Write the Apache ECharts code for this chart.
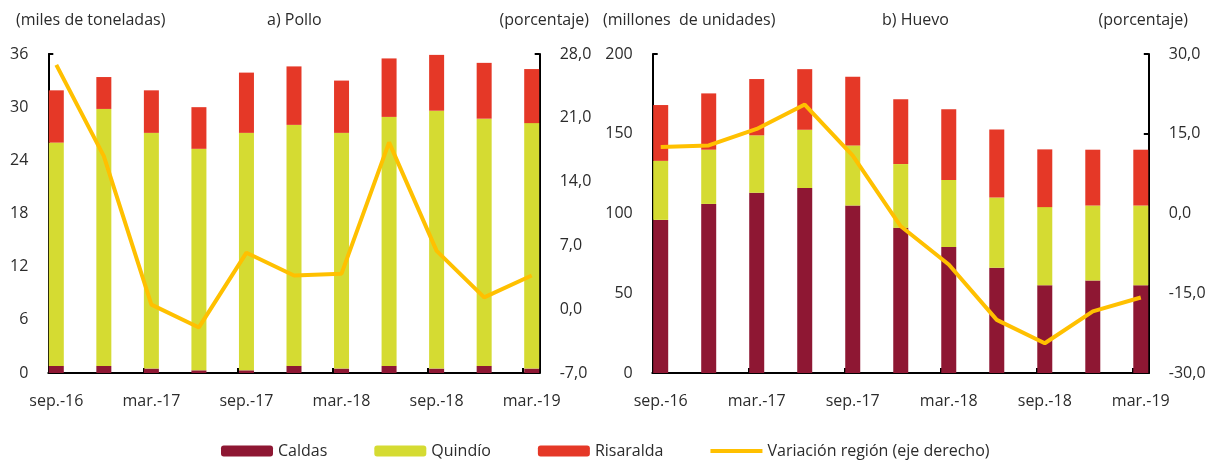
<!DOCTYPE html>
<html lang="es">
<head>
  <meta charset="UTF-8">
  <title>Pollo y Huevo - Eje Cafetero</title>
  <script src="https://cdn.jsdelivr.net/npm/echarts@6/dist/echarts.min.js"></script>
  <style>
    html, body { margin: 0; padding: 0; background: #fff; }
    #main { width: 1218px; height: 461px; }
  </style>
</head>
<body>
  <div id="main"></div>
  <script>
    // trimestres
    const categorias = ['sep.-16', 'dic.-16', 'mar.-17', 'jun.-17', 'sep.-17', 'dic.-17',
                        'mar.-18', 'jun.-18', 'sep.-18', 'dic.-18', 'mar.-19'];

    // a) Pollo (miles de toneladas) y variación (%)
    const caldasPollo    = [0.8, 0.8, 0.5, 0.3, 0.3, 0.8, 0.5, 0.8, 0.5, 0.8, 0.5];
    const quindioPollo   = [25.2, 29.0, 26.6, 25.0, 26.8, 27.2, 26.6, 28.1, 29.1, 27.9, 27.7];
    const risaraldaPollo = [5.9, 3.6, 4.8, 4.7, 6.8, 6.6, 5.9, 6.6, 6.3, 6.3, 6.1];
    const variacionPollo = [26.8, 16.8, 0.5, -2.0, 6.2, 3.7, 3.9, 18.3, 6.4, 1.3, 3.7];

    // b) Huevo (millones de unidades) y variación (%)
    const caldasHuevo    = [96, 106, 113, 116, 105, 91, 79, 66, 55, 58, 55];
    const quindioHuevo   = [37, 34, 36, 36.5, 37.7, 40, 42, 44, 49, 47, 50];
    const risaraldaHuevo = [35, 35.3, 35.3, 38, 43, 40.6, 44.3, 42.6, 36.2, 35, 35];
    const variacionHuevo = [12.5, 12.8, 15.9, 20.5, 10.9, -2.4, -9.6, -20.0, -24.4, -18.4, -15.8];

    const colores = { caldas: '#8E1733', quindio: '#D5DB32', risaralda: '#E53827', linea: '#FFC000' };
    const fuente = "'Open Sans', sans-serif";
    const texto = '#2b2b2b';
    const negro = { color: '#000', width: 2 };

    const chart = echarts.init(document.getElementById('main'));

    const coma = v => v.toFixed(1).replace('.', ',');

    // eje de categorías (solo etiquetas), las barras quedan sobre los puntos
    function ejeCategorias(grid) {
      return {
        type: 'category', gridIndex: grid, data: categorias, boundaryGap: false,
        axisLine: { show: false }, axisTick: { show: false },
        axisLabel: { interval: 1, margin: 20, color: texto, fontSize: 16, fontFamily: fuente }
      };
    }

    // eje auxiliar solo para la línea base y sus marcas
    function ejeBase(grid) {
      return {
        type: 'value', gridIndex: grid, min: -0.17, max: 10.17, interval: 2,
        splitLine: { show: false }, axisLabel: { show: false },
        axisLine: { show: true, lineStyle: negro },
        axisTick: { show: true, inside: true, length: 5, lineStyle: negro }
      };
    }

    function ejeY(grid, pos, min, max, interval, fmt) {
      return {
        type: 'value', gridIndex: grid, position: pos, offset: 8,
        min: min, max: max, interval: interval,
        splitLine: { show: false },
        axisLine: { show: true, lineStyle: negro },
        axisTick: { show: true, inside: true, length: 5, lineStyle: negro },
        axisLabel: { margin: 20, color: texto, fontSize: 16, fontFamily: fuente, formatter: fmt }
      };
    }

    const ejeOculto = grid => ({ type: 'value', gridIndex: grid, show: false, min: 0, max: 1 });

    function barras(nombre, datos, color, xi, yi) {
      return {
        name: nombre, type: 'bar', stack: 'g' + xi, xAxisIndex: xi, yAxisIndex: yi,
        barWidth: 15, clip: false, itemStyle: { color: color }, data: datos
      };
    }

    function linea(datos, xi, yi) {
      return {
        name: 'Variación región (eje derecho)', type: 'line', xAxisIndex: xi, yAxisIndex: yi,
        symbol: 'none', z: 5, clip: false, lineStyle: { color: colores.linea, width: 4 },
        itemStyle: { color: colores.linea }, data: datos
      };
    }

    const estiloTitulo = { color: texto, fontSize: 16, fontWeight: 'normal', fontFamily: fuente };
    const titulo = (t, pos) => Object.assign({ text: t, top: 12, padding: 0, textStyle: estiloTitulo }, pos);

    const option = {
      animation: false,
      title: [
        titulo('(miles de toneladas)', { left: 16 }),
        titulo('a) Pollo', { left: 267 }),
        titulo('(porcentaje)', { right: 629 }),
        titulo('(millones  de unidades)', { left: 603 }),
        titulo('b) Huevo', { left: 882 }),
        titulo('(porcentaje)', { right: 30 })
      ],
      legend: {
        left: 216, top: 438, itemWidth: 52, itemHeight: 11, itemGap: 47,
        textStyle: { color: texto, fontSize: 16, fontFamily: fuente },
        data: [
          'Caldas', 'Quindío', 'Risaralda',
          {
            name: 'Variación región (eje derecho)',
            icon: 'path://M0,0h1v0.01h-1z M0,3.5h52v4h-52z M0,10.99h1v0.01h-1z'
          }
        ]
      },
      grid: [
        { left: 56.3, right: 1218 - 531.7, top: 54, bottom: 88 },
        { left: 660.7, right: 1218 - 1140.8, top: 54, bottom: 88 },
        { left: 48.3, right: 1218 - 539.3, top: 54, bottom: 88 },
        { left: 652.3, right: 1218 - 1149, top: 54, bottom: 88 }
      ],
      xAxis: [ejeCategorias(0), ejeCategorias(1), ejeBase(2), ejeBase(3)],
      yAxis: [
        ejeY(0, 'left', 0, 36, 6, v => String(v)),
        ejeY(0, 'right', -7, 28, 7, coma),
        ejeY(1, 'left', 0, 200, 50, v => String(v)),
        ejeY(1, 'right', -30, 30, 15, coma),
        ejeOculto(2),
        ejeOculto(3)
      ],
      series: [
        barras('Caldas', caldasPollo, colores.caldas, 0, 0),
        barras('Quindío', quindioPollo, colores.quindio, 0, 0),
        barras('Risaralda', risaraldaPollo, colores.risaralda, 0, 0),
        linea(variacionPollo, 0, 1),
        barras('Caldas', caldasHuevo, colores.caldas, 1, 2),
        barras('Quindío', quindioHuevo, colores.quindio, 1, 2),
        barras('Risaralda', risaraldaHuevo, colores.risaralda, 1, 2),
        linea(variacionHuevo, 1, 3)
      ]
    };

    chart.setOption(option);
    window.addEventListener('resize', chart.resize);
  </script>
</body>
</html>
